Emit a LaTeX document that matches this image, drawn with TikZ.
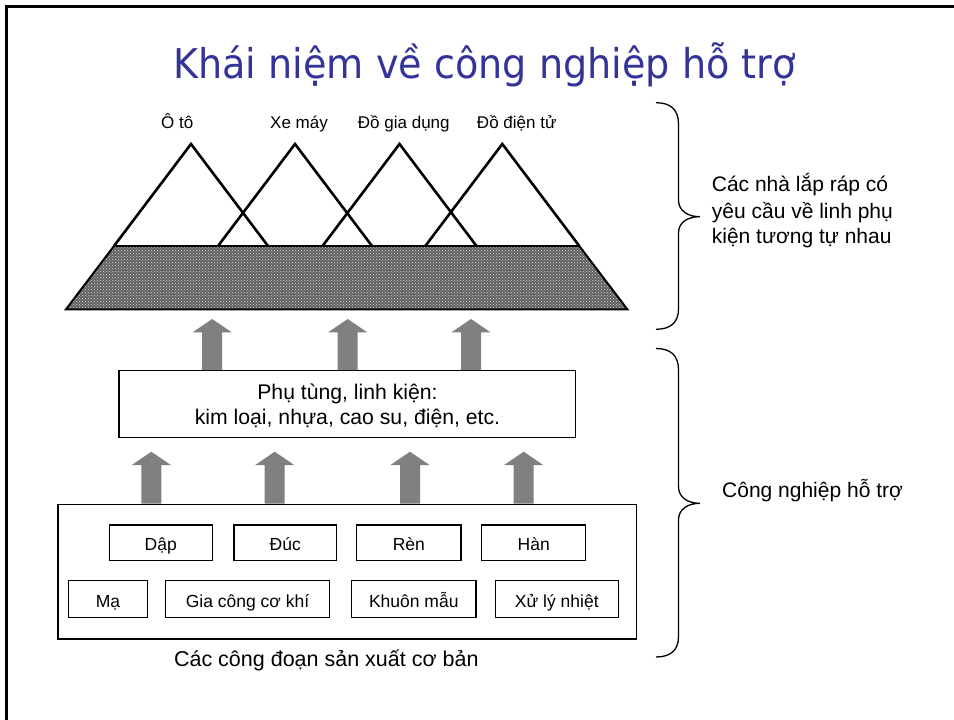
\documentclass[tikz,border=0pt]{standalone}
\usepackage{fontspec}
\setmainfont{Liberation Sans}
\newfontfamily\titlefont[FakeStretch=0.93]{DejaVu Sans}
\usetikzlibrary{patterns}
\definecolor{titleblue}{RGB}{51,51,153}
\definecolor{arrowgray}{RGB}{128,128,128}
\tikzset{
  tri/.style={line width=2.6pt, line join=miter},
  smallbox/.style={draw, line width=1.4pt, inner sep=0pt, text height=17.6pt, text depth=2pt,
    font=\fontsize{17.5}{20}\selectfont},
  bigbox/.style={draw, line width=1.4pt, inner sep=0pt, anchor=north west},
  blockarr/.style={fill=arrowgray, draw=none},
  brace/.style={line width=1.3pt},
  lbl/.style={anchor=base, inner sep=0pt, font=\fontsize{17}{20}\selectfont},
  midtxt/.style={anchor=base, inner sep=0pt, font=\fontsize{21.2}{24}\selectfont},
  sidetxt/.style={anchor=base west, inner sep=0pt, font=\fontsize{21}{24}\selectfont},
}
\begin{document}
\begin{tikzpicture}[x=1pt,y=-1pt]
\useasboundingbox (0,0) rectangle (954,720);
% slide border
\draw[line width=3pt] (6.5,720) -- (6.5,6.5) -- (954,6.5);
% title
\node[anchor=base, inner sep=0pt, text=titleblue, font=\titlefont\fontsize{41}{48}\selectfont] (title) at (484.5,78) {Khái niệm về công nghiệp hỗ trợ};

% trapezoid
\coordinate (tl) at (114,246);
\coordinate (tr) at (579.3,246);
\coordinate (br) at (627.3,309.3);
\coordinate (bl) at (66,309.3);
\fill[black!62] (tl) -- (tr) -- (br) -- (bl) -- cycle;
\fill[pattern=crosshatch dots, pattern color=white!85!black] (tl) -- (tr) -- (br) -- (bl) -- cycle;
\draw[line width=2pt, line join=miter] (tl) -- (tr) -- (br) -- (bl) -- cycle;

% triangles
\foreach \n/\x in {1/191,2/295,3/399.5,4/502.3}{
  \coordinate (a\n) at (\x,144);
  \draw[tri] (\x-77,246) -- (a\n) -- (\x+77,246);
}
\node[lbl] (l1) at (177.3,128) {Ô tô};
\node[lbl] (l2) at (299,128) {Xe máy};
\node[lbl] (l3) at (403.8,128) {Đồ gia dụng};
\node[lbl] (l4) at (516.7,128) {Đồ điện tử};

% middle box
\node[bigbox, minimum width=456.7pt, minimum height=66.7pt] (mid) at (118.3,370) {};
\node[midtxt] (m1) at (347.5,399.3) {Phụ tùng, linh kiện:};
\node[midtxt] (m2) at (347.5,424.3) {kim loại, nhựa, cao su, điện, etc.};

% bottom box
\node[bigbox, minimum width=578.7pt, minimum height=134.7pt] (bot) at (57.3,503.6) {};
\node[smallbox, minimum width=103pt, minimum height=35.7pt] (dap) at (160.8,542.9) {Dập};
\node[smallbox, minimum width=102.7pt, minimum height=35.7pt] (duc) at (285.3,542.9) {Đúc};
\node[smallbox, minimum width=104.3pt, minimum height=35.7pt] (ren) at (408.8,542.9) {Rèn};
\node[smallbox, minimum width=104pt, minimum height=35.7pt] (han) at (533.7,542.9) {Hàn};
\node[smallbox, minimum width=79.4pt, minimum height=37pt] (ma) at (108,599.2) {Mạ};
\node[smallbox, minimum width=163.6pt, minimum height=37pt] (gia) at (247.5,599.2) {Gia công cơ khí};
\node[smallbox, minimum width=124.3pt, minimum height=37pt] (khuon) at (413.8,599.2) {Khuôn mẫu};
\node[smallbox, minimum width=123pt, minimum height=37pt] (xu) at (556.8,599.2) {Xử lý nhiệt};
\node[anchor=base, inner sep=0pt, font=\fontsize{21.5}{24}\selectfont] (botlbl) at (326.3,666.7) {Các công đoạn sản xuất cơ bản};

% upper block arrows (middle box -> trapezoid)
\foreach \x in {212.2,347.7,471}{
  \fill[blockarr] (\x-10,370) -- (\x-10,332.3) -- (\x-19.5,332.3) -- (\x,319) -- (\x+19.5,332.3) -- (\x+10,332.3) -- (\x+10,370) -- cycle;
}
% lower block arrows (bottom box -> middle box)
\foreach \x in {151.3,274.7,410,523.7}{
  \fill[blockarr] (\x-10,503.6) -- (\x-10,465) -- (\x-19.5,465) -- (\x,451.7) -- (\x+19.5,465) -- (\x+10,465) -- (\x+10,503.6) -- cycle;
}

% braces
\coordinate (ub1) at (656,102.7);
\coordinate (ubt) at (700,216.7);
\coordinate (ub2) at (656,329.3);
\draw[brace] (ub1) .. controls (671,102.7) and (678.5,110) .. (678.5,124)
  -- (678.5,200) .. controls (678.5,211) and (688,216.7) .. (ubt)
  .. controls (688,216.7) and (678.5,222) .. (678.5,233)
  -- (678.5,309) .. controls (678.5,322) and (671,329.3) .. (ub2);
\coordinate (lb1) at (656,348.5);
\coordinate (lbt) at (700,503.3);
\coordinate (lb2) at (656,657);
\draw[brace] (lb1) .. controls (671,348.5) and (678.5,355.8) .. (678.5,369.8)
  -- (678.5,486.6) .. controls (678.5,497.6) and (688,503.3) .. (lbt)
  .. controls (688,503.3) and (678.5,509) .. (678.5,520)
  -- (678.5,636.7) .. controls (678.5,649.7) and (671,657) .. (lb2);

% side texts
\node[sidetxt] (r1) at (711.7,191.7) {Các nhà lắp ráp có};
\node[sidetxt] (r2) at (711.7,218.3) {yêu cầu về linh phụ};
\node[sidetxt] (r3) at (711.7,243.3) {kiện tương tự nhau};
\node[sidetxt] (r4) at (722,497) {Công nghiệp hỗ trợ};
\end{tikzpicture}
\end{document}
